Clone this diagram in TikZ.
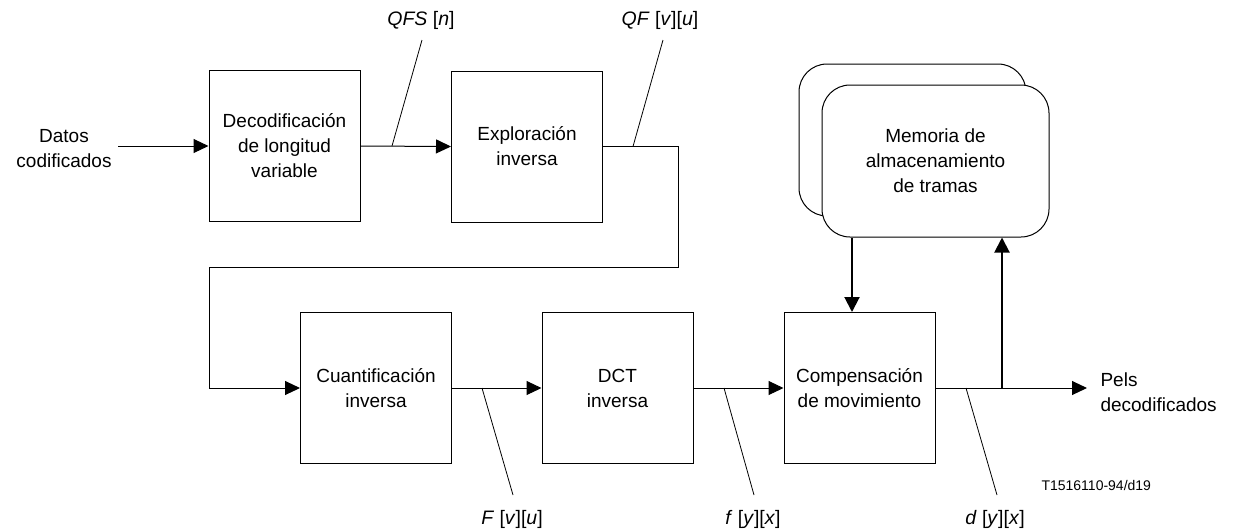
\documentclass[tikz,border=0pt]{standalone}
\usepackage{fontspec}
\setmainfont{Liberation Sans}
\usetikzlibrary{arrows.meta}
\begin{document}
\begin{tikzpicture}[x=1pt,y=-1pt,
  every node/.style={font=\fontsize{19}{25}\selectfont},
  blk/.style={draw,line width=1pt,inner sep=0pt,minimum width=151pt,minimum height=151pt,align=center},
  mem/.style={draw,fill=white,line width=1pt,rounded corners=28pt,inner sep=0pt,minimum width=227pt,minimum height=152pt,align=center},
  conn/.style={line width=1pt},
  arr/.style={line width=1pt,-{Triangle[length=15pt,width=14pt]}},
  thick arr/.style={line width=2pt,-{Triangle[length=15pt,width=15pt]}},
  lbl/.style={font=\fontsize{19.5}{22}\selectfont},
  lead/.style={line width=0.8pt}]
\useasboundingbox (0,0) rectangle (1234,531);
% blocks
\node[blk] (vld) at (284.5,146) {Decodificación\\de longitud\\variable};
\node[blk] (scan) at (527,146.5) {Exploración\\inversa};
\node[blk] (iq) at (376,388) {Cuantificación\\inversa};
\node[blk] (idct) at (617.5,388) {DCT\\inversa};
\node[blk] (mc) at (859.5,388) {Compensación\\de movimiento};
\node[mem] (memb) at (912.5,140) {};
\node[mem] (mem) at (935.5,161) {Memoria de\\almacenamiento\\de tramas};
% texts
\node[align=center] (in) at (64,149) {Datos\\codificados};
\node[align=left,anchor=west] (out) at (1097,392) {Pels\\decodificados};
\node[lbl] (lqfs) at (421,20) {\textit{QFS} [\textit{n}]};
\node[lbl] (lqf) at (660,20) {\textit{QF} [\textit{v}][\textit{u}]};
\node[lbl] (lF) at (512,519) {\textit{F} [\textit{v}][\textit{u}]};
\node[lbl] (lf) at (753,519) {\textit{f} [\textit{y}][\textit{x}]};
\node[lbl] (ld) at (995,519) {\textit{d} [\textit{y}][\textit{x}]};
\node[anchor=west,font=\fontsize{14}{16}\selectfont] (code) at (1038,485) {T1516110-94/d19};
% coordinates
\coordinate (cin) at (118,146);
\coordinate (t1) at (678,146.5);
\coordinate (t2) at (678,267);
\coordinate (t3) at (209,267);
\coordinate (t4) at (209,388);
\coordinate (br) at (1002,388);
\coordinate (cout) at (1087,388);
\coordinate (q1) at (392,146);
\coordinate (q1e) at (422,40);
\coordinate (q2) at (633,146.5);
\coordinate (q2e) at (663,40);
\coordinate (f1) at (482,388);
\coordinate (f1e) at (513,495);
\coordinate (f2) at (724,388);
\coordinate (f2e) at (754,495);
\coordinate (d1) at (966,388);
\coordinate (d1e) at (997,495);
% connectors
\draw[arr] (cin) -- (vld.west);
\draw[arr] (vld.east) -- (scan.west);
\draw[conn] (scan.east) -- (t1) -- (t2) -- (t3) -- (t4);
\draw[arr] (t4) -- (iq.west);
\draw[arr] (iq.east) -- (idct.west);
\draw[arr] (idct.east) -- (mc.west);
\draw[arr] (mc.east) -- (cout);
\draw[thick arr] (mem.south -| mc.north) ++(-7.5,0) coordinate (m1) -- (m1 |- mc.north);
\draw[thick arr] (br) -- (br |- mem.south);
% leader lines
\draw[lead] (q1) -- (q1e);
\draw[lead] (q2) -- (q2e);
\draw[lead] (f1) -- (f1e);
\draw[lead] (f2) -- (f2e);
\draw[lead] (d1) -- (d1e);
\end{tikzpicture}
\end{document}
